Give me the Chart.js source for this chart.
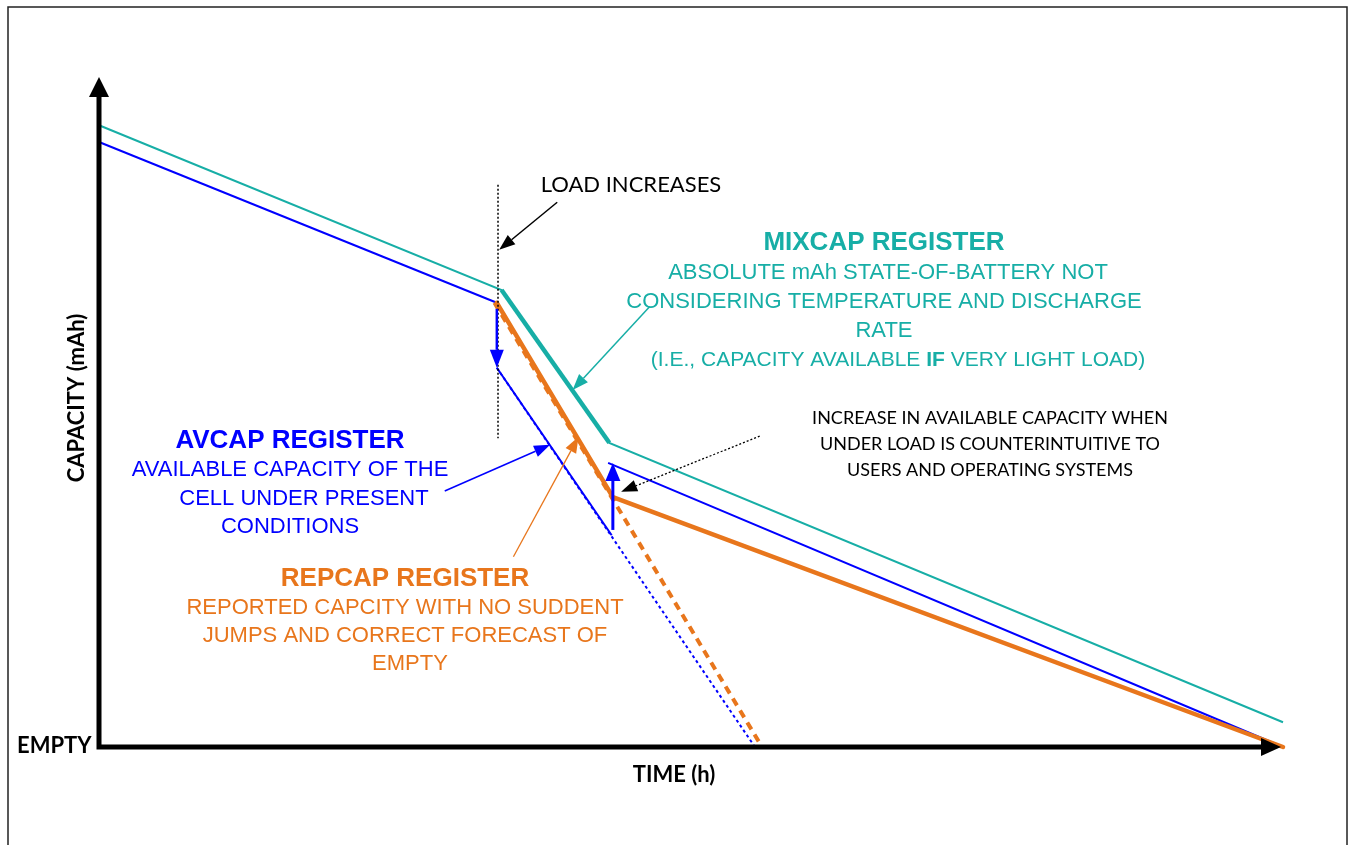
<!DOCTYPE html>
<html>
<head>
<meta charset="utf-8">
<script src="https://cdn.jsdelivr.net/npm/chart.js@4.4.0/dist/chart.umd.min.js"></script>
<style>
  html, body { margin: 0; padding: 0; background: #fff; overflow: hidden; }
  #wrap { width: 1351px; height: 845px; }
</style>
</head>
<body>
<div id="wrap"><canvas id="chart" width="1351" height="845"></canvas></div>
<script>
// Time runs 0..100, capacity 0..100 (0 = EMPTY)
const mixcapTime = [0, 34.0, 43.1, 100];
const mixcapCap = [92.8, 68.2, 45.4, 3.7];

const avcapTime = [0, 33.6];
const avcapCap = [90.3, 66.3];
const avcapLoadTime = [33.6, 43.3];
const avcapLoadCap = [56.6, 31.6];
const avcapForecastTime = [33.6, 55.4];
const avcapForecastCap = [56.6, 0];
const avcapRelaxTime = [43.0, 100];
const avcapRelaxCap = [42.4, 0];

const repcapTime = [33.6, 43.4, 100];
const repcapCap = [66.3, 37.3, 0];
const repcapForecastTime = [33.4, 56.0];
const repcapForecastCap = [66.3, 0];

// jumps of AVCAP: [time, from, to]
const avcapDrop = [33.6, 65.4, 56.6];
const avcapJump = [43.4, 32.4, 42.4];
const loadTime = 33.7;

const TEAL = '#17aea6';
const BLUE = '#0000ff';
const ORANGE = '#e8761c';

const toPoints = (ts, cs) => ts.map((t, i) => ({ x: t, y: cs[i] }));

function arrow(ctx, x1, y1, x2, y2, color, width, headLen, headW, dash) {
  const ang = Math.atan2(y2 - y1, x2 - x1);
  const bx = x2 - headLen * Math.cos(ang);
  const by = y2 - headLen * Math.sin(ang);
  ctx.save();
  ctx.strokeStyle = color;
  ctx.fillStyle = color;
  ctx.lineWidth = width;
  ctx.setLineDash(dash || []);
  ctx.beginPath();
  ctx.moveTo(x1, y1);
  ctx.lineTo(bx, by);
  ctx.stroke();
  ctx.setLineDash([]);
  ctx.beginPath();
  ctx.moveTo(x2, y2);
  ctx.lineTo(bx + headW / 2 * Math.sin(ang), by - headW / 2 * Math.cos(ang));
  ctx.lineTo(bx - headW / 2 * Math.sin(ang), by + headW / 2 * Math.cos(ang));
  ctx.closePath();
  ctx.fill();
  ctx.restore();
}

function textLines(ctx, lines, cx, y0, step, font, color) {
  ctx.font = font;
  ctx.fillStyle = color;
  lines.forEach((l, i) => {
    const x = Array.isArray(l) ? l[1] : cx;
    ctx.fillText(Array.isArray(l) ? l[0] : l, x, y0 + i * step);
  });
}

const diagram = {
  id: 'diagram',
  beforeDraw(chart) {
    const ctx = chart.ctx;
    ctx.save();
    ctx.fillStyle = '#fff';
    ctx.fillRect(0, 0, chart.width, chart.height);
    ctx.strokeStyle = '#222';
    ctx.lineWidth = 1.5;
    ctx.strokeRect(8, 7, 1339, 860);
    ctx.restore();
  },
  afterDatasetsDraw(chart) {
    const ctx = chart.ctx;
    const xs = chart.scales.x, ys = chart.scales.y;
    const P = (t, c) => [xs.getPixelForValue(t), ys.getPixelForValue(c)];
    const a = chart.chartArea;

    // axes
    ctx.save();
    ctx.strokeStyle = '#000';
    ctx.fillStyle = '#000';
    ctx.lineWidth = 5;
    ctx.beginPath();
    ctx.moveTo(a.left, a.top + 18);
    ctx.lineTo(a.left, a.bottom);
    ctx.lineTo(a.right - 18, a.bottom);
    ctx.stroke();
    ctx.beginPath();
    ctx.moveTo(a.left, a.top);
    ctx.lineTo(a.left - 10, a.top + 20);
    ctx.lineTo(a.left + 10, a.top + 20);
    ctx.closePath();
    ctx.fill();
    ctx.beginPath();
    ctx.moveTo(a.right - 2, a.bottom);
    ctx.lineTo(a.right - 22, a.bottom - 9);
    ctx.lineTo(a.right - 22, a.bottom + 9);
    ctx.closePath();
    ctx.fill();
    ctx.restore();

    // load increase marker
    const [lx, ly1] = P(loadTime, 83.9);
    const [, ly2] = P(loadTime, 46.1);
    ctx.save();
    ctx.strokeStyle = '#000';
    ctx.lineWidth = 1.5;
    ctx.setLineDash([2, 2]);
    ctx.beginPath();
    ctx.moveTo(lx, ly1);
    ctx.lineTo(lx, ly2);
    ctx.stroke();
    ctx.restore();

    // AVCAP jumps
    let p1 = P(avcapDrop[0], avcapDrop[1]), p2 = P(avcapDrop[0], avcapDrop[2]);
    arrow(ctx, p1[0], p1[1], p2[0], p2[1], BLUE, 2.5, 18, 14);
    p1 = P(avcapJump[0], avcapJump[1]); p2 = P(avcapJump[0], avcapJump[2]);
    arrow(ctx, p1[0], p1[1], p2[0], p2[1], BLUE, 3, 18, 15);

    // pointers
    const ptr = (t1, c1, t2, c2, col, w, dash) => {
      const s = P(t1, c1), e = P(t2, c2);
      arrow(ctx, s[0], s[1], e[0], e[1], col, w, 16, 12, dash);
    };
    ptr(38.7, 81.3, 33.8, 74.2, '#000', 1.5);
    ptr(46.5, 65.7, 40.0, 53.3, TEAL, 1.5);
    ptr(29.2, 38.2, 38.1, 45.1, BLUE, 1.5);
    ptr(35.0, 28.4, 40.5, 46.3, ORANGE, 1.3);
    ptr(55.8, 46.4, 44.1, 38.1, '#000', 1.3, [2, 2]);

    // texts
    ctx.save();
    ctx.textAlign = 'center';
    ctx.textBaseline = 'middle';

    ctx.font = '22px Lato';
    ctx.fillStyle = '#000';
    ctx.fillText('LOAD INCREASES', 631, 185);

    textLines(ctx, ['MIXCAP REGISTER'], 884, 243, 0, 'bold 26px "Liberation Sans", Arial', TEAL);
    textLines(ctx, [
      ['ABSOLUTE mAh STATE-OF-BATTERY NOT', 888],
      ['CONSIDERING TEMPERATURE AND DISCHARGE', 884],
      ['RATE', 884]
    ], 884, 273, 29, '22px "Liberation Sans", Arial', TEAL);
    // mixed bold line
    const reg = '21px "Liberation Sans", Arial', bld = 'bold 21px "Liberation Sans", Arial';
    const parts = [['(I.E., CAPACITY AVAILABLE ', reg], ['IF', bld], [' VERY LIGHT LOAD)', reg]];
    let tot = 0;
    parts.forEach(p => { ctx.font = p[1]; tot += ctx.measureText(p[0]).width; });
    let x = 898 - tot / 2;
    ctx.textAlign = 'left';
    parts.forEach(p => {
      ctx.font = p[1];
      ctx.fillText(p[0], x, 360);
      x += ctx.measureText(p[0]).width;
    });
    ctx.textAlign = 'center';

    textLines(ctx, ['AVCAP REGISTER'], 290, 441, 0, 'bold 26px "Liberation Sans", Arial', BLUE);
    textLines(ctx, [
      'AVAILABLE CAPACITY OF THE',
      ['CELL UNDER PRESENT', 304],
      'CONDITIONS'
    ], 290, 470, 28.5, '22px "Liberation Sans", Arial', BLUE);

    textLines(ctx, ['REPCAP REGISTER'], 405, 579, 0, 'bold 26px "Liberation Sans", Arial', ORANGE);
    textLines(ctx, [
      'REPORTED CAPCITY WITH NO SUDDENT',
      'JUMPS AND CORRECT FORECAST OF',
      ['EMPTY', 410]
    ], 405, 608, 28, '22px "Liberation Sans", Arial', ORANGE);

    textLines(ctx, [
      'INCREASE IN AVAILABLE CAPACITY WHEN',
      'UNDER LOAD IS COUNTERINTUITIVE TO',
      'USERS AND OPERATING SYSTEMS'
    ], 990, 418, 26, '18px Lato', '#000');

    // axis labels
    ctx.font = 'bold 22px Lato';
    ctx.fillStyle = '#000';
    ctx.fillText('TIME (h)', 674, 775);
    ctx.textAlign = 'left';
    ctx.fillText('EMPTY', 17, 746);
    ctx.save();
    ctx.translate(77, 398);
    ctx.rotate(-Math.PI / 2);
    ctx.textAlign = 'center';
    ctx.fillText('CAPACITY (mAh)', 0, 0);
    ctx.restore();
    ctx.restore();
  }
};

const line = (label, ts, cs, color, width, order, extra) => Object.assign({
  label,
  data: toPoints(ts, cs),
  showLine: true,
  borderColor: color,
  borderWidth: width,
  pointRadius: 0,
  fill: false,
  tension: 0,
  clip: false,
  order
}, extra || {});

new Chart(document.getElementById('chart'), {
  type: 'scatter',
  data: {
    datasets: [
      line('REPCAP', repcapTime, repcapCap, ORANGE, 4.5, 1, { borderCapStyle: 'round', borderJoinStyle: 'round' }),
      line('REPCAP forecast', repcapForecastTime, repcapForecastCap, ORANGE, 4, 2, { borderDash: [8, 6] }),
      line('AVCAP', avcapTime, avcapCap, BLUE, 2, 3),
      line('AVCAP under load', avcapLoadTime, avcapLoadCap, BLUE, 2, 3),
      line('AVCAP forecast', avcapForecastTime, avcapForecastCap, BLUE, 2, 5, { borderDash: [3, 3] }),
      line('AVCAP relaxed', avcapRelaxTime, avcapRelaxCap, BLUE, 2, 3),
      line('MIXCAP', mixcapTime, mixcapCap, TEAL, 2, 4),
      line('MIXCAP load', mixcapTime.slice(1, 3), mixcapCap.slice(1, 3), TEAL, 4.5, 4)
    ]
  },
  options: {
    responsive: false,
    animation: false,
    layout: { padding: { left: 99, top: 77, right: 68, bottom: 98 } },
    plugins: { legend: { display: false }, tooltip: { enabled: false } },
    scales: {
      x: { type: 'linear', min: 0, max: 100, display: false },
      y: { type: 'linear', min: 0, max: 100, display: false }
    }
  },
  plugins: [diagram]
});
</script>
</body>
</html>
